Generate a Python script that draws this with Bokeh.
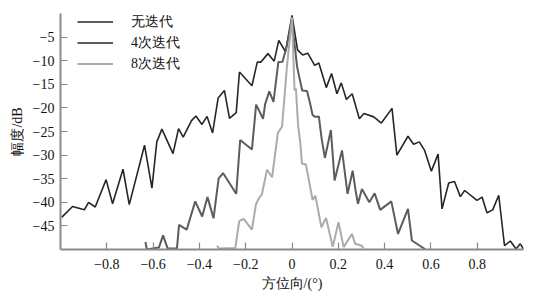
from bokeh.plotting import figure
from bokeh.models import FixedTicker, Range1d, Legend, LegendItem
from bokeh.embed import file_html
from bokeh.resources import INLINE

# ---- data ----
x_none = [-0.995, -0.948, -0.897, -0.879, -0.850, -0.803, -0.775, -0.730, -0.703, -0.637,
          -0.605, -0.584, -0.562, -0.514, -0.490, -0.470, -0.434, -0.415, -0.389, -0.367,
          -0.343, -0.319, -0.292, -0.270, -0.241, -0.227, -0.173, -0.150, -0.134, -0.104,
          -0.077, -0.057, -0.028, 0.0, 0.024, 0.046, 0.068, 0.098, 0.116, 0.148,
          0.171, 0.194, 0.213, 0.235, 0.260, 0.291, 0.311, 0.353, 0.386, 0.432,
          0.453, 0.501, 0.525, 0.550, 0.573, 0.602, 0.631, 0.648, 0.677, 0.702,
          0.727, 0.746, 0.799, 0.821, 0.842, 0.867, 0.893, 0.918, 0.943, 0.968,
          0.986, 1.0]
y_none = [-43.2, -40.9, -41.6, -40.0, -41.0, -35.2, -40.3, -33.0, -40.5, -27.9,
          -37.0, -27.2, -24.5, -29.7, -24.4, -26.2, -22.7, -21.7, -23.5, -21.8,
          -25.3, -17.9, -16.3, -22.2, -21.0, -12.4, -15.3, -10.3, -10.3, -8.5,
          -10.1, -5.7, -8.1, -0.4, -7.7, -8.8, -8.4, -11.0, -10.5, -15.7,
          -12.7, -17.0, -14.7, -18.2, -17.0, -22.3, -21.2, -21.9, -23.2, -20.1,
          -30.0, -26.0, -27.7, -27.2, -29.0, -33.4, -29.8, -41.4, -35.9, -35.6,
          -38.8, -37.5, -39.6, -38.9, -42.2, -41.6, -38.5, -49.2, -48.2, -49.9,
          -48.8, -49.9]

x_it4 = [-0.633, -0.627, -0.575, -0.557, -0.537, -0.497, -0.488, -0.455, -0.418, -0.388,
         -0.365, -0.339, -0.317, -0.298, -0.241, -0.224, -0.173, -0.155, -0.125, -0.116,
         -0.098, -0.080, -0.059, -0.041, -0.024, 0.0, 0.022, 0.044, 0.065, 0.078,
         0.089, 0.100, 0.116, 0.128, 0.142, 0.168, 0.184, 0.216, 0.240, 0.262,
         0.275, 0.285, 0.302, 0.334, 0.357, 0.381, 0.429, 0.458, 0.501, 0.518,
         0.577]
y_it4 = [-48.4, -50.0, -49.6, -47.0, -49.8, -49.8, -44.8, -45.8, -39.8, -43.0,
         -38.9, -43.4, -35.0, -33.8, -38.2, -26.8, -28.8, -19.3, -22.3, -19.2,
         -16.5, -18.7, -10.3, -10.2, -7.2, -1.5, -11.3, -16.3, -16.4, -19.0,
         -21.5, -21.9, -21.8, -26.5, -30.6, -24.7, -35.4, -29.0, -38.2, -33.3,
         -37.6, -40.3, -37.2, -40.0, -38.1, -41.6, -39.8, -46.7, -41.4, -48.1,
         -50.0]

x_it8 = [-0.324, -0.315, -0.245, -0.228, -0.209, -0.173, -0.156, -0.144, -0.130, -0.108,
         -0.086, -0.061, -0.043, -0.022, 0.0, 0.011, 0.017, 0.026, 0.036, 0.043,
         0.060, 0.069, 0.089, 0.101, 0.127, 0.147, 0.176, 0.201, 0.223, 0.259,
         0.273, 0.302, 0.309]
y_it8 = [-49.2, -49.8, -49.7, -44.0, -43.5, -45.8, -40.5, -39.2, -38.3, -33.1,
         -34.7, -25.3, -24.0, -11.3, -0.8, -16.3, -15.9, -23.5, -27.5, -31.8,
         -32.0, -34.3, -39.5, -38.6, -45.3, -43.3, -49.4, -44.2, -49.5, -46.7,
         -48.8, -49.2, -49.7]

series_names = ["无迭代", "4次迭代", "8次迭代"]
x_ticks = [-0.8, -0.6, -0.4, -0.2, 0.0, 0.2, 0.4, 0.6, 0.8]
x_tick_labels = ["−0.8", "−0.6", "−0.4", "−0.2", "0", "0.2", "0.4", "0.6", "0.8"]
y_ticks = [-45, -40, -35, -30, -25, -20, -15, -10, -5]
y_tick_labels = ["−45", "−40", "−35", "−30", "−25", "−20", "−15", "−10", "−5"]

FONT = "Liberation Serif"
AXC = "#8a8a8a"

p = figure(width=535, height=301, output_backend="svg", toolbar_location=None,
           x_range=Range1d(-1.0, 1.0), y_range=Range1d(-50, 0),
           min_border_left=60, min_border_right=12, min_border_top=13, min_border_bottom=52)
p.outline_line_color = None
p.xgrid.visible = False
p.ygrid.visible = False
p.background_fill_color = "white"
p.border_fill_color = "white"

r1 = p.line(x_none, y_none, line_color="#262626", line_width=1.6)
r2 = p.line(x_it4, y_it4, line_color="#5c5c5c", line_width=2.0)
r3 = p.line(x_it8, y_it8, line_color="#ababab", line_width=2.0)

for ax in (p.xaxis[0], p.yaxis[0]):
    ax.axis_line_color = AXC
    ax.axis_line_width = 2
    ax.major_tick_line_color = AXC
    ax.major_tick_line_width = 1.2
    ax.major_tick_in = 7
    ax.major_tick_out = 0
    ax.minor_tick_line_color = None
    ax.major_label_text_font = FONT
    ax.major_label_text_font_size = "14px"
    ax.major_label_text_color = "#111111"
    ax.axis_label_text_font = FONT
    ax.axis_label_text_font_size = "14px"
    ax.axis_label_text_font_style = "normal"
    ax.axis_label_text_color = "#111111"

p.xaxis[0].ticker = FixedTicker(ticks=x_ticks)
p.xaxis[0].major_label_overrides = {t: s for t, s in zip(x_ticks, x_tick_labels)}
p.yaxis[0].ticker = FixedTicker(ticks=y_ticks)
p.yaxis[0].major_label_overrides = {t: s for t, s in zip(y_ticks, y_tick_labels)}
p.xaxis[0].axis_label = "方位向/(°)"
p.yaxis[0].axis_label = "幅度/dB"
p.xaxis[0].major_label_standoff = 9
p.xaxis[0].axis_label_standoff = 4
p.yaxis[0].major_label_standoff = 6
p.yaxis[0].axis_label_standoff = 5

legend = Legend(items=[LegendItem(label=series_names[0], renderers=[r1]),
                       LegendItem(label=series_names[1], renderers=[r2]),
                       LegendItem(label=series_names[2], renderers=[r3])],
                location=(17, 175))
legend.border_line_color = None
legend.background_fill_alpha = 0
legend.padding = 0
legend.margin = 0
legend.spacing = 0
legend.glyph_width = 36
legend.glyph_height = 21
legend.label_height = 21
legend.label_standoff = 18
legend.label_text_font = FONT
legend.label_text_font_size = "14px"
legend.label_text_color = "#111111"
p.add_layout(legend, "center")

open("out.html", "w").write(file_html(p, INLINE))
